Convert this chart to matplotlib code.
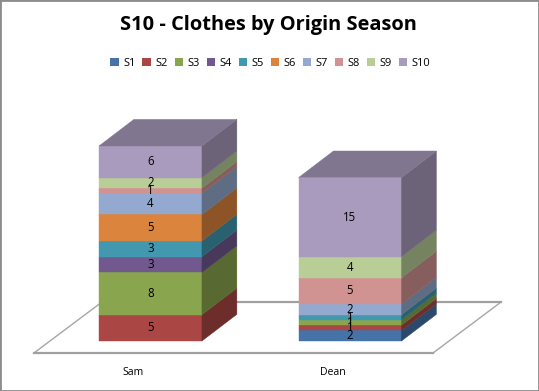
"""S10 - Clothes by Origin Season: stacked bars with a fake 3D box look."""

import matplotlib
matplotlib.use("Agg")
import matplotlib.pyplot as plt
from matplotlib.patches import Patch, Rectangle

plt.rcParams["font.family"] = ["Open Sans", "DejaVu Sans"]

TITLE = "S10 - Clothes by Origin Season"
PEOPLE = ["Sam", "Dean"]
SEASONS = ["S1", "S2", "S3", "S4", "S5", "S6", "S7", "S8", "S9", "S10"]
SAM = [0, 5, 8, 3, 3, 5, 4, 1, 2, 6]
DEAN = [2, 1, 1, 0, 1, 0, 2, 5, 4, 15]
COLORS = ["#4572A7", "#AA4643", "#89A54E", "#71588F", "#4198AF",
          "#DB843D", "#93A9CF", "#D19392", "#B9CD96", "#A99BBD"]

# one category = 199.5 px, one item = 5.27 px
BAR_W = 0.516
DEPTH_X = 0.175
DEPTH_Y = 5.05
SIDE_SHADE = 0.64
TOP_SHADE = 0.76


def shade(color, factor):
    rgb = matplotlib.colors.to_rgb(color)
    return tuple(c * factor for c in rgb)


def draw_stack(ax, pos, values):
    left = pos - BAR_W / 2
    right = pos + BAR_W / 2
    base = 0
    top_color = None
    for value, color, in zip(values, COLORS):
        if value == 0:
            continue
        top = base + value
        ax.fill([left, right, right, left], [base, base, top, top],
                color=color, lw=0.3, zorder=3)
        side = shade(color, SIDE_SHADE)
        ax.fill([right, right + DEPTH_X, right + DEPTH_X, right],
                [base, base + DEPTH_Y, top + DEPTH_Y, top],
                color=side, lw=0.3, zorder=3)
        ax.text(pos, base + value / 2, str(value), ha="center", va="center",
                fontsize=8.3, color="black", zorder=4)
        base = top
        top_color = color
    ax.fill([left, right, right + DEPTH_X, left + DEPTH_X],
            [base, base, base + DEPTH_Y, base + DEPTH_Y],
            color=shade(top_color, TOP_SHADE), lw=0.3, zorder=3)


fig = plt.figure(figsize=(5.39, 3.91), dpi=100)
ax = fig.add_axes([0, 0, 1, 1])
ax.set_xlim(-0.754, 1.947)
ax.set_ylim(-9.49, 64.7)
ax.axis("off")

# floor of the chart
floor_x = [-0.584, 1.416, 1.757, -0.243, -0.584]
floor_y = [-2.28, -2.28, 7.4, 7.4, -2.28]
ax.plot(floor_x, floor_y, color="#a6a6a6", lw=1.0, zorder=1)
ax.plot(floor_x[:2], floor_y[:2], color="#a0a0a0", lw=1.6, zorder=1)
ax.plot(floor_x[2:4], floor_y[2:4], color="#a0a0a0", lw=1.6, zorder=1)

for pos, values in enumerate([SAM, DEAN]):
    draw_stack(ax, pos, values)
    ax.text(pos - 0.087, -5.9, PEOPLE[pos], ha="center", va="center", fontsize=7.6)

fig.text(0.4985, 0.936, TITLE, ha="center", va="center", fontsize=14.4,
         fontweight="bold", color="black")

handles = [Patch(facecolor=c, edgecolor="none") for c in COLORS]
fig.legend(handles, SEASONS, ncol=10, loc="center", bbox_to_anchor=(0.5015, 0.838),
           frameon=False, fontsize=8, handlelength=0.75, handleheight=0.75,
           handletextpad=0.4, columnspacing=0.62)

# window frame round the picture
fig.add_artist(Rectangle((0, 0), 1, 1, transform=fig.transFigure, fill=False,
                         edgecolor="#8c8c8c", lw=2.0))

fig.savefig("out.png", dpi=100)
plt.close(fig)
